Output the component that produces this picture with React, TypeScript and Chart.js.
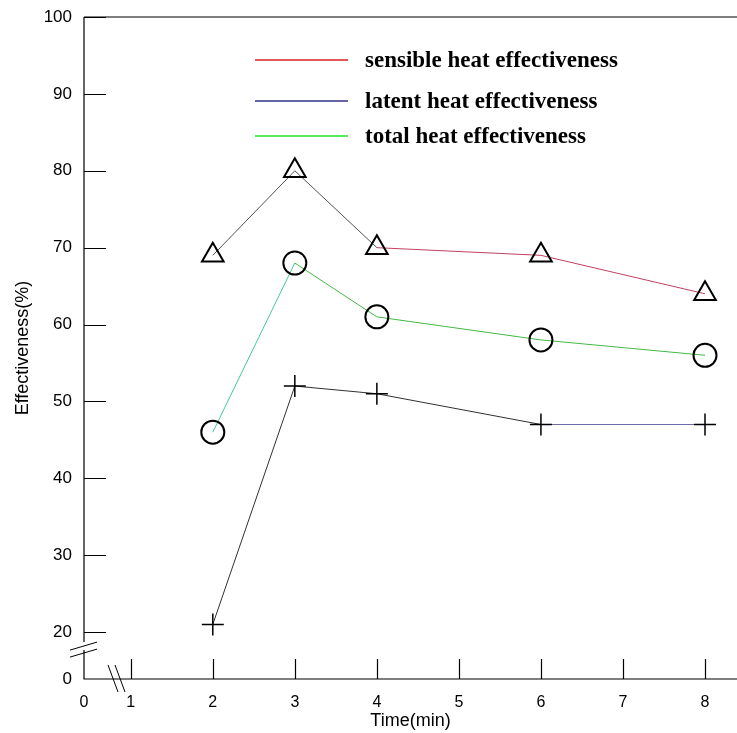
import React, { useEffect, useRef } from "react";
import { Chart, registerables } from "chart.js";

Chart.register(...registerables);

// ---- data ----
const times = [2, 3, 4, 6, 8];
const sensible = [69, 80, 70, 69, 64];
const latent = [21, 52, 51, 47, 47];
const total = [46, 68, 61, 58, 56];

const seriesNames = [
  "sensible heat effectiveness",
  "latent heat effectiveness",
  "total heat effectiveness",
];
const legendColors = ["#d82020", "#303080", "#22e022"];

// segment colours as drawn in the reference (one per segment)
const sensibleSegColors = ["#505050", "#505050", "#c0405e", "#c0405e"];
const latentSegColors = ["#303030", "#303030", "#303030", "#6a6aa8"];
const totalSegColors = ["#40c8a0", "#44b844", "#44b844", "#44b844"];

// tick labels / broken-axis positions
const xTickValues = [1, 2, 3, 4, 5, 6, 7, 8];
const yTickValues = [20, 30, 40, 50, 60, 70, 80, 90, 100];
const X_ZERO_AT = 0.43; // where "0" sits on the broken x axis
const X_MAX = 8.39;
const Y_ZERO_AT = 13.9; // where "0" sits on the broken y axis
const Y_MAX = 100;

const decorPlugin = {
  id: "decor",
  afterDraw(chart: any) {
    const { ctx, chartArea } = chart;
    const { left, right, top, bottom } = chartArea;
    const xs = chart.scales.x;
    const ys = chart.scales.y;
    ctx.save();
    ctx.strokeStyle = "#000";
    ctx.lineWidth = 1.2;
    // axes
    const yBreak = ys.getPixelForValue(20) + 14;
    ctx.beginPath();
    ctx.moveTo(left, top);
    ctx.lineTo(right, top);
    ctx.moveTo(left, top);
    ctx.lineTo(left, yBreak - 4);
    ctx.moveTo(left, yBreak + 4);
    ctx.lineTo(left, bottom);
    ctx.lineTo(right, bottom);
    ctx.stroke();
    // inner ticks
    ctx.beginPath();
    for (const v of yTickValues) {
      const p = Math.round(ys.getPixelForValue(v)) + 0.5;
      ctx.moveTo(left, p);
      ctx.lineTo(left + 22, p);
    }
    for (const v of xTickValues) {
      const p = Math.round(xs.getPixelForValue(v)) + 0.5;
      ctx.moveTo(p, bottom);
      ctx.lineTo(p, bottom - 20);
    }
    ctx.stroke();
    // break marks
    ctx.lineWidth = 1;
    ctx.beginPath();
    ctx.moveTo(left - 14, yBreak + 4);
    ctx.lineTo(left + 13, yBreak - 4);
    ctx.moveTo(left - 14, yBreak + 11);
    ctx.lineTo(left + 13, yBreak + 3);
    const xBreak = xs.getPixelForValue(X_ZERO_AT) + 29;
    ctx.moveTo(xBreak - 5, bottom - 14);
    ctx.lineTo(xBreak + 5, bottom + 13);
    ctx.moveTo(xBreak + 2, bottom - 14);
    ctx.lineTo(xBreak + 12, bottom + 13);
    ctx.stroke();
    // legend
    const rows = [60, 101, 136];
    ctx.font = "bold 23px 'Liberation Serif', 'Times New Roman', serif";
    ctx.textBaseline = "middle";
    ctx.fillStyle = "#000";
    seriesNames.forEach((name, i) => {
      ctx.strokeStyle = legendColors[i];
      ctx.lineWidth = 1.5;
      ctx.beginPath();
      ctx.moveTo(255, rows[i]);
      ctx.lineTo(348, rows[i]);
      ctx.stroke();
      ctx.fillText(name, 365, rows[i] + 1);
    });
    ctx.restore();
  },
};

function pts(ys: number[]) {
  return times.map((t, i) => ({ x: t, y: ys[i] }));
}

function zeroPad(s: any) {
  s.paddingTop = 0;
  s.paddingBottom = 0;
  s.paddingLeft = 0;
  s.paddingRight = 0;
}

export default function App() {
  const ref = useRef<HTMLCanvasElement | null>(null);
  useEffect(() => {
    if (!ref.current) return;
    const common = {
      showLine: true,
      borderWidth: 1,
      pointBorderColor: "#000",
      pointBackgroundColor: "rgba(0,0,0,0)",
      pointBorderWidth: 2,
      fill: false,
      tension: 0,
      clip: false,
    };
    const chart = new Chart(ref.current, {
      type: "line",
      data: {
        datasets: [
          {
            ...common,
            label: seriesNames[0],
            data: pts(sensible),
            borderColor: sensibleSegColors[2],
            pointStyle: "triangle",
            pointRadius: 12.5,
            segment: { borderColor: (c: any) => sensibleSegColors[c.p0DataIndex] },
          },
          {
            ...common,
            label: seriesNames[1],
            data: pts(latent),
            borderColor: latentSegColors[3],
            pointStyle: "cross",
            pointRadius: 11,
            pointBorderWidth: 1.5,
            segment: { borderColor: (c: any) => latentSegColors[c.p0DataIndex] },
          },
          {
            ...common,
            label: seriesNames[2],
            data: pts(total),
            borderColor: totalSegColors[1],
            pointStyle: "circle",
            pointRadius: 11.5,
            segment: { borderColor: (c: any) => totalSegColors[c.p0DataIndex] },
          },
        ] as any,
      },
      options: {
        animation: false,
        responsive: false,
        devicePixelRatio: 1,
        layout: { autoPadding: false, padding: { top: 17, right: 0, left: 0, bottom: 0 } },
        plugins: { legend: { display: false }, tooltip: { enabled: false } },
        scales: {
          x: {
            type: "linear",
            min: X_ZERO_AT,
            max: X_MAX,
            grid: { display: false, drawTicks: false },
            border: { display: false },
            afterBuildTicks: (s: any) => {
              s.ticks = [X_ZERO_AT, ...xTickValues].map((v) => ({ value: v }));
            },
            afterFit: (s: any) => {
              s.height = 54;
              zeroPad(s);
            },
            ticks: {
              color: "#000",
              padding: 14,
              maxRotation: 0,
              autoSkip: false,
              font: { family: "'Liberation Sans', Arial, sans-serif", size: 16 },
              callback: (v: any) => (v < 1 ? "0" : String(v)),
            },
            title: {
              display: true,
              text: "Time(min)",
              color: "#000",
              padding: { top: 0, bottom: 1 },
              font: { family: "'Liberation Sans', Arial, sans-serif", size: 18 },
            },
          },
          y: {
            type: "linear",
            min: Y_ZERO_AT,
            max: Y_MAX,
            grid: { display: false, drawTicks: false },
            border: { display: false },
            afterBuildTicks: (s: any) => {
              s.ticks = [Y_ZERO_AT, ...yTickValues].map((v) => ({ value: v }));
            },
            afterFit: (s: any) => {
              s.width = 84;
              zeroPad(s);
            },
            ticks: {
              color: "#000",
              padding: 12,
              autoSkip: false,
              font: { family: "'Liberation Sans', Arial, sans-serif", size: 17 },
              callback: (v: any) => (v < 20 ? "0" : String(v)),
            },
            title: {
              display: true,
              text: "Effectiveness(%)",
              color: "#000",
              padding: { top: 12, bottom: 0 },
              font: { family: "'Liberation Sans', Arial, sans-serif", size: 18 },
            },
          },
        },
      },
      plugins: [decorPlugin],
    } as any);
    return () => chart.destroy();
  }, []);
  return (
    <div style={{ position: "absolute", left: 0, top: 0, width: 737, height: 733, background: "#fff" }}>
      <canvas ref={ref} width={737} height={733} style={{ display: "block" }} />
    </div>
  );
}
